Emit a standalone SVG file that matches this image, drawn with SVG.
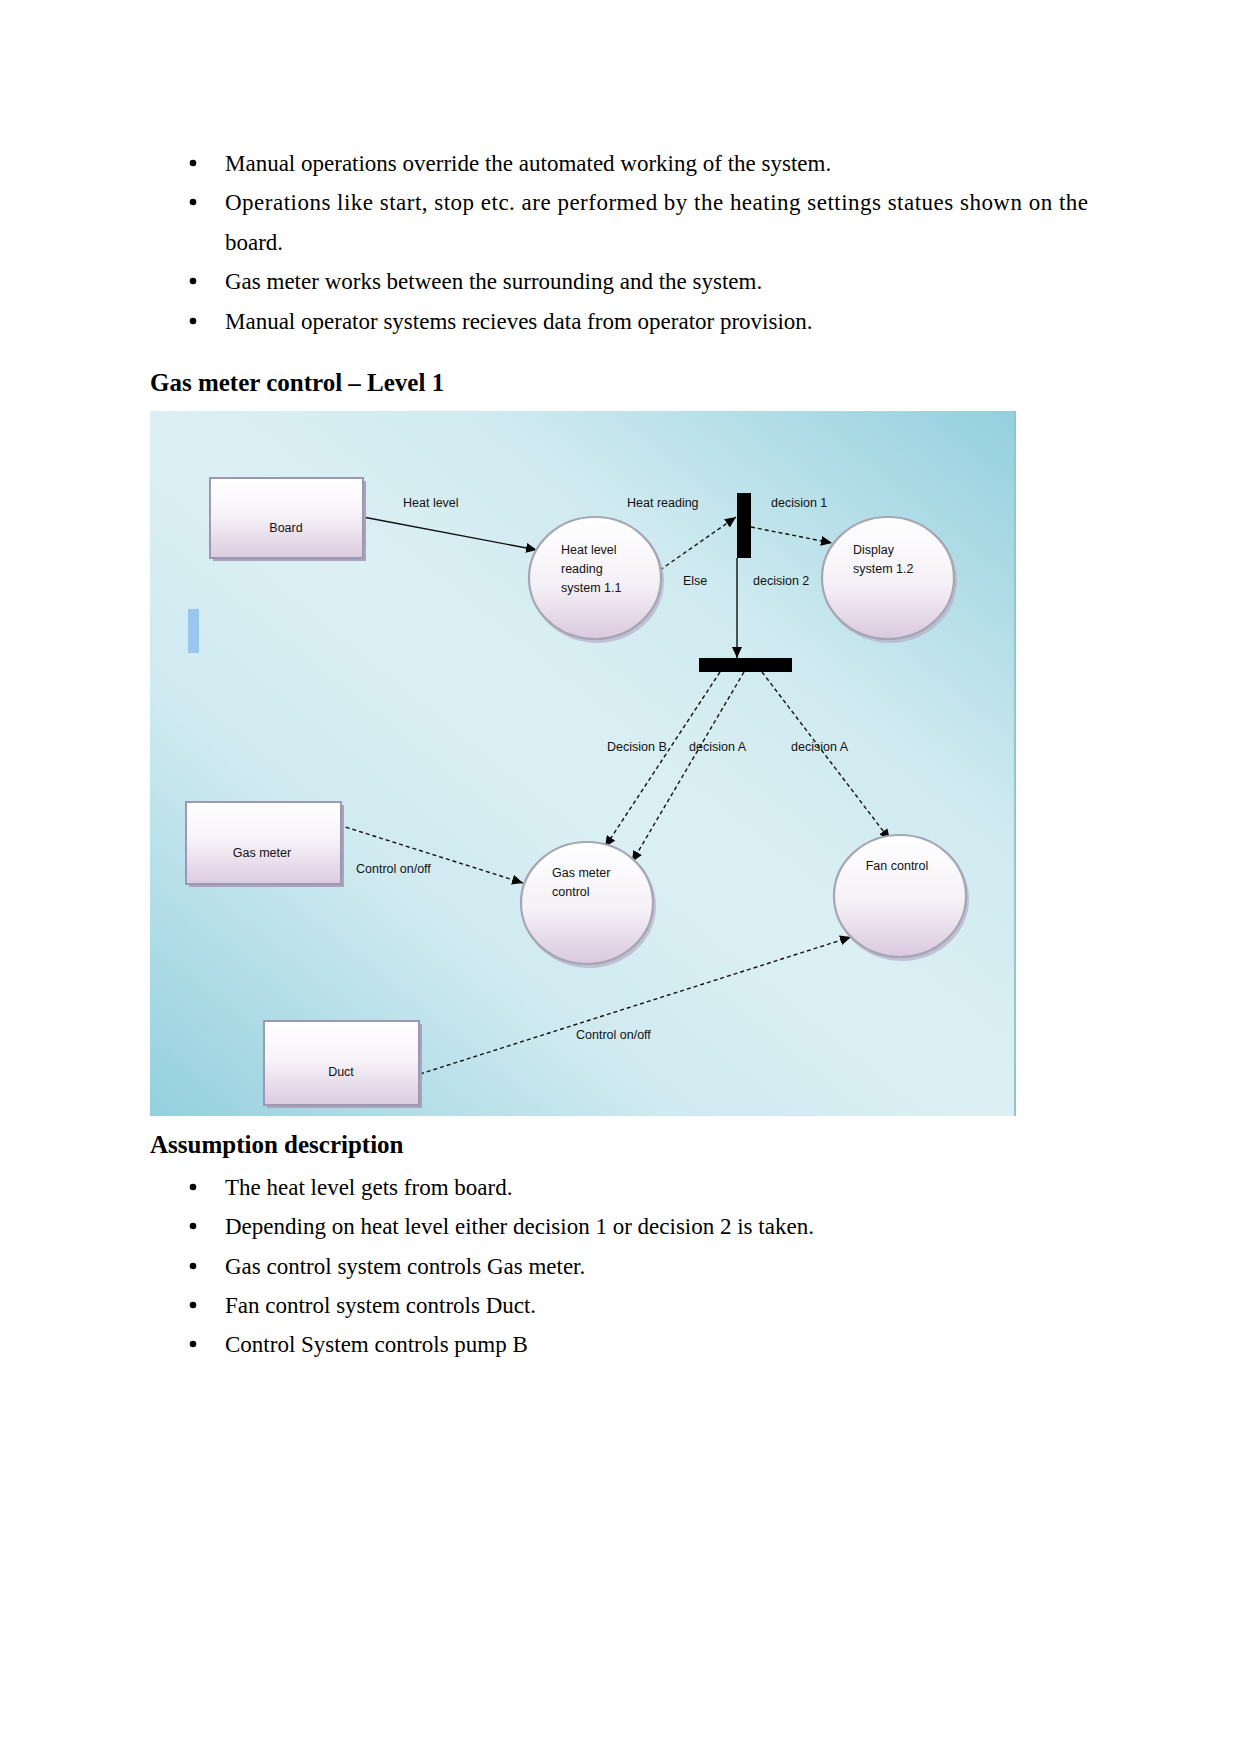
<svg xmlns="http://www.w3.org/2000/svg" width="1241" height="1754" viewBox="0 0 1241 1754">
<style>
.body{font-family:"Liberation Serif","Times New Roman",serif;font-size:23px;fill:#000}
.head{font-family:"Liberation Serif","Times New Roman",serif;font-size:25px;font-weight:bold;fill:#000}
.lbl{font-family:"Liberation Sans",Arial,sans-serif;font-size:12.5px;fill:#111}
.box{fill:url(#boxg);stroke:#9c98b4;stroke-width:2}
.bshadow{fill:#a9a3bb}
.proc{fill:url(#circg);stroke:#a6a6b2;stroke-width:2.2}
.pshadow{fill:#b7aec8;opacity:0.7}
.solid{stroke:#111;stroke-width:1.4;fill:none}
.dash{stroke:#111;stroke-width:1.4;fill:none;stroke-dasharray:4 3}
.bar{fill:#000}
.dot{fill:#000}
</style>
<defs>
<linearGradient id="bg" x1="0" y1="1" x2="1" y2="0">
<stop offset="0" stop-color="#94d0de"/>
<stop offset="0.3" stop-color="#cfeaf0"/>
<stop offset="0.5" stop-color="#dcf0f4"/>
<stop offset="0.7" stop-color="#cfeaf0"/>
<stop offset="1" stop-color="#94d0de"/>
</linearGradient>
<linearGradient id="boxg" x1="0" y1="0" x2="0" y2="1">
<stop offset="0" stop-color="#ffffff"/>
<stop offset="0.45" stop-color="#f7f3f8"/>
<stop offset="1" stop-color="#dccbe0"/>
</linearGradient>
<linearGradient id="circg" x1="0" y1="0" x2="0" y2="1">
<stop offset="0" stop-color="#ffffff"/>
<stop offset="0.55" stop-color="#f5f1f7"/>
<stop offset="1" stop-color="#dac9df"/>
</linearGradient>
<marker id="arr" markerUnits="userSpaceOnUse" markerWidth="12" markerHeight="10" refX="11" refY="5" orient="auto">
<path d="M0,0 L11,5 L0,10 z" fill="#000"/>
</marker>
</defs>
<rect x="0" y="0" width="1241" height="1754" fill="#fff"/>

<g id="intro">
<circle class="dot" cx="193" cy="163" r="3.3"/>
<text class="body" x="225" y="171">Manual operations override the automated working of the system.</text>
<circle class="dot" cx="193" cy="202" r="3.3"/>
<text class="body" x="225" y="210" textLength="863" lengthAdjust="spacing">Operations like start, stop etc. are performed by the heating settings statues shown on the</text>
<text class="body" x="225" y="250">board.</text>
<circle class="dot" cx="193" cy="281" r="3.3"/>
<text class="body" x="225" y="289">Gas meter works between the surrounding and the system.</text>
<circle class="dot" cx="193" cy="321" r="3.3"/>
<text class="body" x="225" y="329">Manual operator systems recieves data from operator provision.</text>
<text class="head" x="150" y="391">Gas meter control – Level 1</text>
</g>

<g id="diagram-bg">
<rect x="150" y="411" width="866" height="705" fill="url(#bg)"/>
<rect x="1014" y="411" width="2" height="705" fill="#8fc6d3"/>
<rect x="188" y="609" width="11" height="44" fill="#9cc7ec"/>
</g>

<g id="connectors">
<line class="solid" x1="363" y1="517" x2="537" y2="550" marker-end="url(#arr)"/>
<line class="dash" x1="660" y1="570" x2="736" y2="517" marker-end="url(#arr)"/>
<line class="dash" x1="751" y1="527" x2="832" y2="543" marker-end="url(#arr)"/>
<line class="solid" x1="737" y1="558" x2="737" y2="658" marker-end="url(#arr)"/>
<line class="dash" x1="720" y1="672" x2="605" y2="847" marker-end="url(#arr)"/>
<line class="dash" x1="744" y1="672" x2="632" y2="862" marker-end="url(#arr)"/>
<line class="dash" x1="762" y1="672" x2="890" y2="840" marker-end="url(#arr)"/>
<line class="dash" x1="339" y1="825" x2="523" y2="883" marker-end="url(#arr)"/>
<line class="dash" x1="420" y1="1074" x2="851" y2="937" marker-end="url(#arr)"/>
<text class="lbl" x="403" y="504" dominant-baseline="middle">Heat level</text>
<text class="lbl" x="627" y="504" dominant-baseline="middle">Heat reading</text>
<text class="lbl" x="771" y="504" dominant-baseline="middle">decision 1</text>
<text class="lbl" x="683" y="582" dominant-baseline="middle">Else</text>
<text class="lbl" x="753" y="582" dominant-baseline="middle">decision 2</text>
<text class="lbl" x="607" y="748" dominant-baseline="middle">Decision B</text>
<text class="lbl" x="689" y="748" dominant-baseline="middle">decision A</text>
<text class="lbl" x="791" y="748" dominant-baseline="middle">decision A</text>
<text class="lbl" x="356" y="870" dominant-baseline="middle">Control on/off</text>
<text class="lbl" x="576" y="1036" dominant-baseline="middle">Control on/off</text>
</g>

<g id="bar-split">
<rect class="bar" x="737" y="493" width="14" height="65"/>
</g>
<g id="bar-join">
<rect class="bar" x="699" y="658" width="93" height="14"/>
</g>

<g id="board">
<rect class="bshadow" x="213" y="481" width="153" height="80"/>
<rect class="box" x="210" y="478" width="153" height="80"/>
<text class="lbl" x="286" y="529" text-anchor="middle" dominant-baseline="middle">Board</text>
</g>

<g id="gas-meter">
<rect class="bshadow" x="189" y="805" width="155" height="82"/>
<rect class="box" x="186" y="802" width="155" height="82"/>
<text class="lbl" x="262" y="854" text-anchor="middle" dominant-baseline="middle">Gas meter</text>
</g>

<g id="duct">
<rect class="bshadow" x="267" y="1024" width="155" height="84"/>
<rect class="box" x="264" y="1021" width="155" height="84"/>
<text class="lbl" x="341" y="1073" text-anchor="middle" dominant-baseline="middle">Duct</text>
</g>

<g id="heat-level-reading">
<ellipse class="pshadow" cx="597" cy="581" rx="67" ry="62"/>
<ellipse class="proc" cx="595" cy="578" rx="66" ry="61"/>
<text class="lbl" x="561" y="551" dominant-baseline="middle">Heat level</text>
<text class="lbl" x="561" y="570" dominant-baseline="middle">reading</text>
<text class="lbl" x="561" y="589" dominant-baseline="middle">system 1.1</text>
</g>

<g id="display-system">
<ellipse class="pshadow" cx="890" cy="581" rx="67" ry="62"/>
<ellipse class="proc" cx="888" cy="578" rx="66" ry="61"/>
<text class="lbl" x="853" y="551" dominant-baseline="middle">Display</text>
<text class="lbl" x="853" y="570" dominant-baseline="middle">system 1.2</text>
</g>

<g id="gas-meter-control">
<ellipse class="pshadow" cx="589" cy="906" rx="67" ry="62"/>
<ellipse class="proc" cx="587" cy="903" rx="66" ry="61"/>
<text class="lbl" x="552" y="874" dominant-baseline="middle">Gas meter</text>
<text class="lbl" x="552" y="893" dominant-baseline="middle">control</text>
</g>

<g id="fan-control">
<ellipse class="pshadow" cx="902" cy="899" rx="67" ry="62"/>
<ellipse class="proc" cx="900" cy="896" rx="66" ry="61"/>
<text class="lbl" x="897" y="867" text-anchor="middle" dominant-baseline="middle">Fan control</text>
</g>

<g id="assumptions">
<text class="head" x="150" y="1153">Assumption description</text>
<circle class="dot" cx="193" cy="1187" r="3.3"/>
<text class="body" x="225" y="1195">The heat level gets from board.</text>
<circle class="dot" cx="193" cy="1226" r="3.3"/>
<text class="body" x="225" y="1234">Depending on heat level either decision 1 or decision 2 is taken.</text>
<circle class="dot" cx="193" cy="1266" r="3.3"/>
<text class="body" x="225" y="1274">Gas control system controls Gas meter.</text>
<circle class="dot" cx="193" cy="1305" r="3.3"/>
<text class="body" x="225" y="1313">Fan control system controls Duct.</text>
<circle class="dot" cx="193" cy="1344" r="3.3"/>
<text class="body" x="225" y="1352">Control System controls pump B</text>
</g>
</svg>
